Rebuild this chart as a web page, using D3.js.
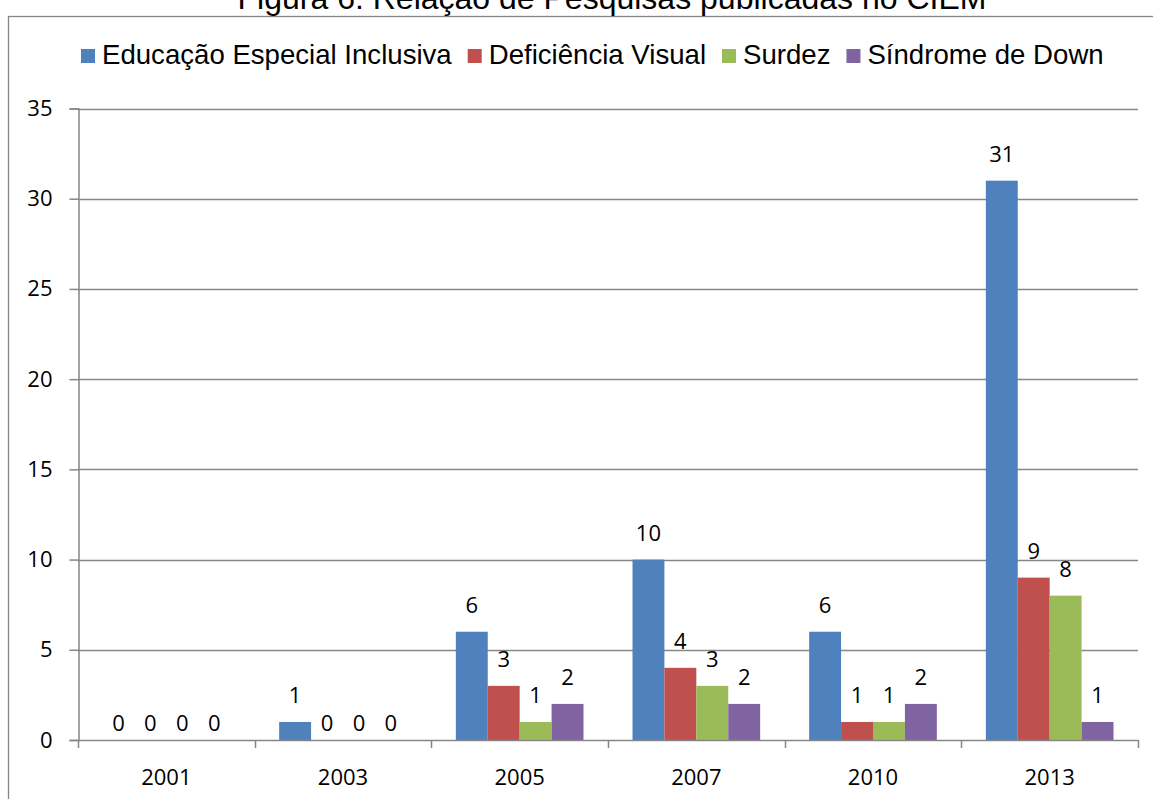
<!DOCTYPE html>
<html>
<head>
<meta charset="utf-8">
<script src="https://cdn.jsdelivr.net/npm/d3@7"></script>
<style>
  body { margin: 0; background: #fff; }
  svg { display: block; }
  .num { font-family: "Open Sans", sans-serif; font-size: 22px; fill: #000; }
  .sans { font-family: "Liberation Sans", Arial, sans-serif; fill: #000; }
</style>
</head>
<body>
<div id="chart"></div>
<script>
// Figura 6: pesquisas publicadas no CIEM, por ano e tema
const years = ['2001', '2003', '2005', '2007', '2010', '2013'];
const seriesNames = ['Educação Especial Inclusiva', 'Deficiência Visual', 'Surdez', 'Síndrome de Down'];
const educacaoEspecial = [0, 1, 6, 10, 6, 31];
const deficienciaVisual = [0, 0, 3, 4, 1, 9];
const surdez = [0, 0, 1, 3, 1, 8];
const sindromeDown = [0, 0, 2, 2, 2, 1];
const yTicks = [0, 5, 10, 15, 20, 25, 30, 35];

const colors = ['#4F81BD', '#C0504D', '#9BBB59', '#8064A2'];
const seriesValues = [educacaoEspecial, deficienciaVisual, surdez, sindromeDown];

const W = 1153, H = 799;
const plot = { left: 78, right: 1138, top: 108.5, bottom: 740 };
const gridColor = '#868686';

const svg = d3.select('#chart').append('svg')
    .attr('width', W)
    .attr('height', H);

// outer chart border (right/bottom run off the picture)
svg.append('rect')
    .attr('x', 8.5)
    .attr('y', 16.5)
    .attr('width', 1160)
    .attr('height', 800)
    .attr('fill', 'none')
    .attr('stroke', gridColor)
    .attr('stroke-width', 1.3);

// title, cut off at the top as in the original figure
svg.append('text')
    .attr('class', 'sans')
    .attr('x', 612)
    .attr('y', 9)
    .attr('text-anchor', 'middle')
    .style('font-size', '32px')
    .text('Figura 6: Relação de Pesquisas publicadas no CIEM');

// Scales
const x = d3.scaleBand()
    .domain(years)
    .range([plot.left, plot.right]);

const xInner = d3.scaleBand()
    .domain(d3.range(seriesNames.length))
    .range([24.5, x.bandwidth() - 24.5]);

const y = d3.scaleLinear()
    .domain([0, 35])
    .range([plot.bottom, plot.top]);

// Gridlines
svg.append('g')
    .selectAll('line')
    .data(yTicks.filter(d => d > 0))
    .enter()
    .append('line')
    .attr('x1', plot.left)
    .attr('x2', plot.right)
    .attr('y1', d => Math.round(y(d)) + 0.5)
    .attr('y2', d => Math.round(y(d)) + 0.5)
    .attr('stroke', gridColor)
    .attr('stroke-width', 1.5);

// Y axis
const yAxis = svg.append('g')
    .attr('transform', `translate(${plot.left + 0.5},0)`)
    .call(d3.axisLeft(y).tickValues(yTicks).tickSize(9).tickPadding(17));
yAxis.select('.domain').attr('stroke', gridColor).attr('stroke-width', 1.5);
yAxis.selectAll('.tick line').attr('stroke', gridColor).attr('stroke-width', 1.5);
yAxis.selectAll('.tick text').attr('class', 'num');
yAxis.attr('font-family', null).attr('font-size', null);

// Bars
const bars = [];
seriesValues.forEach((vals, s) => {
    vals.forEach((v, i) => bars.push({ year: years[i], s, v }));
});

svg.append('g')
    .selectAll('rect')
    .data(bars.filter(d => d.v > 0))
    .enter()
    .append('rect')
    .attr('x', d => x(d.year) + xInner(d.s))
    .attr('y', d => y(d.v))
    .attr('width', xInner.bandwidth())
    .attr('height', d => y(0) - y(d.v))
    .attr('fill', d => colors[d.s]);

// Data labels (outside end)
svg.append('g')
    .selectAll('text')
    .data(bars)
    .enter()
    .append('text')
    .attr('class', 'num')
    .attr('x', d => x(d.year) + xInner(d.s) + xInner.bandwidth() / 2)
    .attr('y', d => y(d.v) - (d.v > 0 ? 19 : 9))
    .attr('text-anchor', 'middle')
    .text(d => d.v);

// X axis line + category boundary ticks
svg.append('line')
    .attr('x1', plot.left)
    .attr('x2', plot.right)
    .attr('y1', plot.bottom + 0.5)
    .attr('y2', plot.bottom + 0.5)
    .attr('stroke', gridColor)
    .attr('stroke-width', 1.5);

const boundaries = years.map(d => x(d)).concat([plot.right]);
svg.append('g')
    .selectAll('line')
    .data(boundaries)
    .enter()
    .append('line')
    .attr('x1', d => Math.round(d) + 0.5)
    .attr('x2', d => Math.round(d) + 0.5)
    .attr('y1', plot.bottom)
    .attr('y2', plot.bottom + 8)
    .attr('stroke', gridColor)
    .attr('stroke-width', 1.5);

svg.append('g')
    .selectAll('text')
    .data(years)
    .enter()
    .append('text')
    .attr('class', 'num')
    .attr('x', d => x(d) + x.bandwidth() / 2)
    .attr('y', 785)
    .attr('text-anchor', 'middle')
    .text(d => d);

// Legend
const legend = svg.append('g').attr('transform', 'translate(81,0)');
let lx = 0;
seriesNames.forEach((name, i) => {
    legend.append('rect')
        .attr('x', lx)
        .attr('y', 49)
        .attr('width', 14)
        .attr('height', 14)
        .attr('fill', colors[i]);
    const t = legend.append('text')
        .attr('class', 'sans')
        .attr('x', lx + 21)
        .attr('y', 64)
        .style('font-size', '27.6px')
        .text(name);
    lx += 21 + t.node().getComputedTextLength() + 16;
});
</script>
</body>
</html>
